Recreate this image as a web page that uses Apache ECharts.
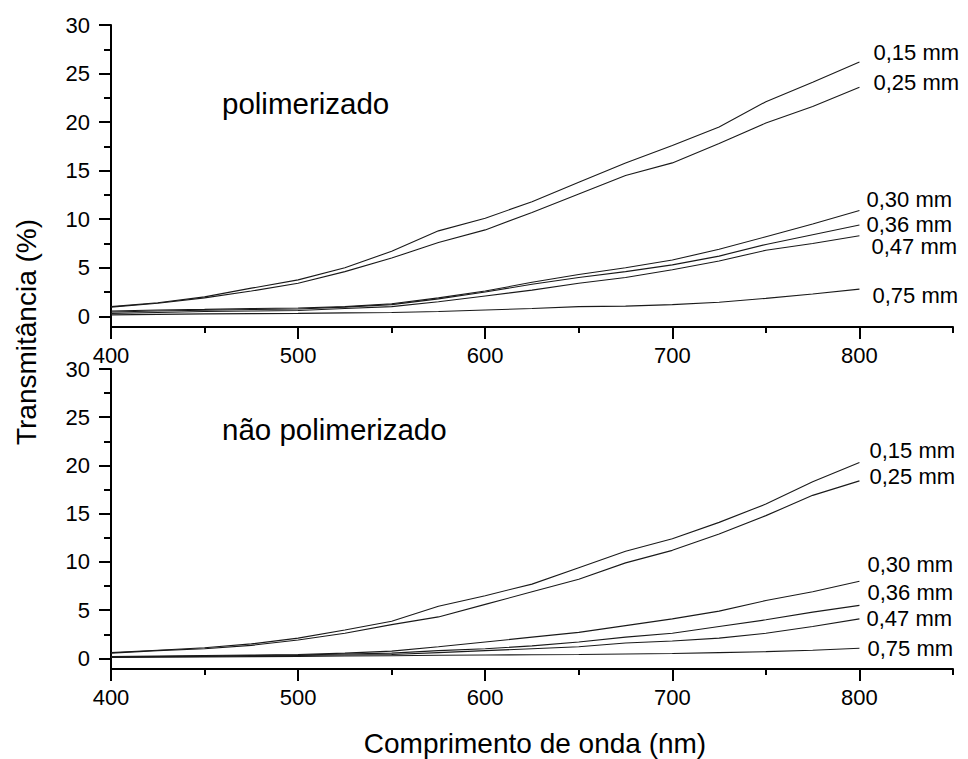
<!DOCTYPE html>
<html>
<head>
<meta charset="utf-8">
<script src="https://cdn.jsdelivr.net/npm/echarts@6/dist/echarts.min.js"></script>
<style>
html, body { margin: 0; padding: 0; background: #fff; }
#main { width: 968px; height: 759px; }
</style>
</head>
<body>
<div id="main"></div>
<script>
// comprimento de onda (nm)
var wavelength = [400, 425, 450, 475, 500, 525, 550, 575, 600, 625, 650, 675, 700, 725, 750, 775, 800];
var thickness = ['0,15 mm', '0,25 mm', '0,30 mm', '0,36 mm', '0,47 mm', '0,75 mm'];

// polimerizado - transmitancia (%)
var pol015 = [1.0, 1.4, 2.0, 2.9, 3.75, 5.0, 6.7, 8.8, 10.1, 11.8, 13.8, 15.8, 17.6, 19.5, 22.1, 24.1, 26.2];
var pol025 = [0.95, 1.35, 1.9, 2.6, 3.4, 4.6, 6.0, 7.6, 8.9, 10.7, 12.6, 14.5, 15.8, 17.8, 19.9, 21.6, 23.6];
var pol030 = [0.55, 0.65, 0.72, 0.8, 0.85, 1.0, 1.3, 1.9, 2.6, 3.5, 4.3, 5.0, 5.8, 6.9, 8.2, 9.5, 10.9];
var pol036 = [0.45, 0.55, 0.62, 0.7, 0.75, 0.95, 1.2, 1.8, 2.5, 3.3, 4.0, 4.6, 5.3, 6.2, 7.4, 8.4, 9.4];
var pol047 = [0.3, 0.4, 0.5, 0.55, 0.6, 0.8, 1.0, 1.5, 2.1, 2.7, 3.4, 4.0, 4.8, 5.7, 6.8, 7.5, 8.3];
var pol075 = [0.15, 0.2, 0.25, 0.28, 0.3, 0.35, 0.4, 0.5, 0.65, 0.8, 1.0, 1.05, 1.2, 1.45, 1.85, 2.3, 2.8];

// nao polimerizado - transmitancia (%)
var nao015 = [0.6, 0.85, 1.1, 1.5, 2.1, 2.95, 3.85, 5.4, 6.5, 7.7, 9.4, 11.1, 12.4, 14.1, 16.0, 18.3, 20.3];
var nao025 = [0.55, 0.8, 1.0, 1.35, 1.9, 2.6, 3.5, 4.3, 5.6, 6.9, 8.2, 9.9, 11.2, 12.9, 14.8, 16.9, 18.4];
var nao030 = [0.2, 0.25, 0.3, 0.35, 0.4, 0.55, 0.75, 1.2, 1.7, 2.2, 2.7, 3.4, 4.1, 4.9, 6.0, 6.9, 8.0];
var nao036 = [0.15, 0.2, 0.25, 0.3, 0.35, 0.45, 0.55, 0.8, 1.0, 1.3, 1.7, 2.2, 2.6, 3.3, 4.0, 4.8, 5.5];
var nao047 = [0.15, 0.18, 0.2, 0.25, 0.3, 0.35, 0.4, 0.6, 0.8, 1.0, 1.2, 1.6, 1.8, 2.1, 2.6, 3.3, 4.1];
var nao075 = [0.1, 0.12, 0.15, 0.18, 0.2, 0.25, 0.28, 0.32, 0.35, 0.38, 0.4, 0.45, 0.5, 0.6, 0.7, 0.85, 1.05];

// ticks
var yMajor = [0, 5, 10, 15, 20, 25, 30];
var yMinor = [2.5, 7.5, 12.5, 17.5, 22.5, 27.5];
var xMajor = [400, 500, 600, 700, 800];
var xMinor = [450, 550, 650, 750, 850];

var polSeries = [pol015, pol025, pol030, pol036, pol047, pol075];
var naoSeries = [nao015, nao025, nao030, nao036, nao047, nao075];

var FONT = '"Liberation Sans", Arial, sans-serif';
// deslocamento das etiquetas no fim de cada curva
var polLabelOff = [[14, -9], [14, -5], [7, -11], [7, -1], [12, 11], [13, 6]];
var naoLabelOff = [[10, -12], [10, -4], [8, -17], [8, -13], [7, 0], [8, 0]];

var myChart = echarts.init(document.getElementById('main'), null, { renderer: 'svg' });

function xAxisOf(g, ticks, len, main) {
    return {
        type: 'value', gridIndex: g, min: 400, max: 850, position: 'bottom',
        axisLine: { show: main, onZero: false, lineStyle: { color: '#000', width: 2 } },
        axisTick: { show: true, customValues: ticks, length: len, lineStyle: { color: '#000', width: 2 } },
        axisLabel: { show: main, customValues: ticks, margin: 17, fontSize: 22, color: '#000', fontFamily: FONT },
        splitLine: { show: false }
    };
}
function yAxisOf(g, ticks, len, main) {
    return {
        type: 'value', gridIndex: g, min: -1.1, max: 30, position: 'left',
        axisLine: { show: main, onZero: false, lineStyle: { color: '#000', width: 2 } },
        axisTick: { show: true, customValues: ticks, length: len, lineStyle: { color: '#000', width: 2 } },
        axisLabel: { show: main, customValues: ticks, margin: 21, fontSize: 22, color: '#000', fontFamily: FONT },
        splitLine: { show: false }
    };
}

function buildSeries(list, g, offs) {
    return list.map(function (vals, i) {
        return {
            name: thickness[i],
            type: 'line',
            xAxisIndex: g * 2,
            yAxisIndex: g * 2,
            showSymbol: false,
            symbol: 'none',
            silent: true,
            lineStyle: { color: '#1a1a1a', width: 1.1 },
            data: wavelength.map(function (w, k) { return [w, vals[k]]; }),
            endLabel: {
                show: true,
                formatter: thickness[i],
                distance: 0,
                offset: offs[i],
                align: 'left',
                verticalAlign: 'middle',
                fontSize: 22,
                color: '#000',
                fontFamily: FONT
            }
        };
    });
}

var option = {
    backgroundColor: '#fff',
    animation: false,
    title: [
        { text: 'polimerizado', left: 222, top: 88, padding: 0,
          textStyle: { fontSize: 29.5, fontWeight: 'normal', color: '#000', fontFamily: FONT } },
        { text: 'não polimerizado', left: 222, top: 414, padding: 0,
          textStyle: { fontSize: 29.5, fontWeight: 'normal', color: '#000', fontFamily: FONT } }
    ],
    grid: [
        { left: 111, top: 25, width: 842, height: 302 },
        { left: 111, top: 369, width: 842, height: 300 }
    ],
    xAxis: [
        xAxisOf(0, xMajor, 12, true), xAxisOf(0, xMinor, 6, false),
        xAxisOf(1, xMajor, 12, true), xAxisOf(1, xMinor, 6, false)
    ],
    yAxis: [
        yAxisOf(0, yMajor, 12, true), yAxisOf(0, yMinor, 7, false),
        yAxisOf(1, yMajor, 12, true), yAxisOf(1, yMinor, 7, false)
    ],
    graphic: [
        { type: 'text', x: 26, y: 332, rotation: Math.PI / 2,
          style: { text: 'Transmitância (%)', fontSize: 28, fontFamily: FONT, fill: '#000',
                   textAlign: 'center', textVerticalAlign: 'middle' } },
        { type: 'text', x: 535, y: 743,
          style: { text: 'Comprimento de onda (nm)', fontSize: 28, fontFamily: FONT, fill: '#000',
                   textAlign: 'center', textVerticalAlign: 'middle' } }
    ],
    series: buildSeries(polSeries, 0, polLabelOff).concat(buildSeries(naoSeries, 1, naoLabelOff))
};

myChart.setOption(option);
</script>
</body>
</html>
